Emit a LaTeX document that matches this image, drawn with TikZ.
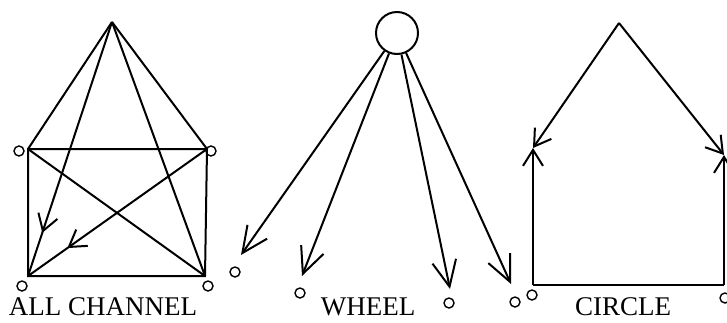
\documentclass[tikz,border=0pt]{standalone}
\usepackage{fontspec}
\setmainfont{Liberation Serif}
\usetikzlibrary{arrows.meta, positioning}
\usetikzlibrary{decorations.markings}

\begin{document}
\begin{tikzpicture}[x=1pt,y=-1pt,line width=2pt,
    port/.style={circle,draw,line width=1.4pt,minimum size=10pt,inner sep=0pt},
    hub/.style={circle,draw,minimum size=42pt,inner sep=0pt},
    tag/.style={anchor=base,inner sep=0pt,font=\fontsize{27}{30}\selectfont},
    barb/.style={-{Straight Barb[length=16pt,width=20pt]}},
    bigbarb/.style={-{Straight Barb[length=26pt,width=24pt]}},
    midbarb/.style={postaction={decorate},decoration={markings,
        mark=at position #1 with {\arrow{Straight Barb[length=16pt,width=20pt]}}}}]
            \useasboundingbox (0,0) rectangle (727,322);

            \coordinate (top) at (112,22);
            \coordinate (tl) at (28,149);
            \coordinate (tr) at (207,149);
            \coordinate (bl) at (28,276);
            \coordinate (br) at (205,276);
            \node[port](p1) at (19,151) {};
            \node[port](p2) at (211,151) {};
            \node[port](p3) at (22,286) {};
            \node[port](p4) at (208,286) {};
            \draw (top) -- (tl);
            \draw (top) -- (tr);
            \draw[midbarb=0.83] (top) -- (bl);
            \draw (top) -- (br);
            \draw (tl) -- (tr) -- (br) -- (bl) -- cycle;
            \draw (tl) -- (br);
            \draw[midbarb=0.78] (tr) -- (bl);
            \node[tag](lblall) at (103,315) {ALL CHANNEL};

            \node[hub](hub) at (397,33) {};
            \coordinate (w1) at (241,255);
            \coordinate (w2) at (302,276);
            \coordinate (w3) at (450,289);
            \coordinate (w4) at (511,284);
            \node[port](q1) at (235,272) {};
            \node[port](q2) at (300,293) {};
            \node[port](q3) at (449,303) {};
            \node[port](q4) at (515,302) {};
            \draw[bigbarb] (hub) -- (w1);
            \draw[bigbarb] (hub) -- (w2);
            \draw[bigbarb] (hub) -- (w3);
            \draw[bigbarb] (hub) -- (w4);
            \node[tag](lblwheel) at (368,315) {WHEEL};

            \coordinate (ctop) at (619,23);
            \coordinate (cl) at (533,148);
            \coordinate (cr) at (724,155);
            \coordinate (cbl) at (533,285);
            \coordinate (cbr) at (724,285);
            \node[port](r1) at (532,295) {};
            \node[port](r2) at (725,298) {};
            \draw[barb] (ctop) -- (cl);
            \draw[barb] (cbl) -- (cl);
            \draw[barb] (ctop) -- (cr);
            \draw[barb] (cbr) -- (cr);
            \draw (cbl) -- (cbr);
            \node[tag](lblcircle) at (623,315) {CIRCLE};
        \end{tikzpicture}
\end{document}
